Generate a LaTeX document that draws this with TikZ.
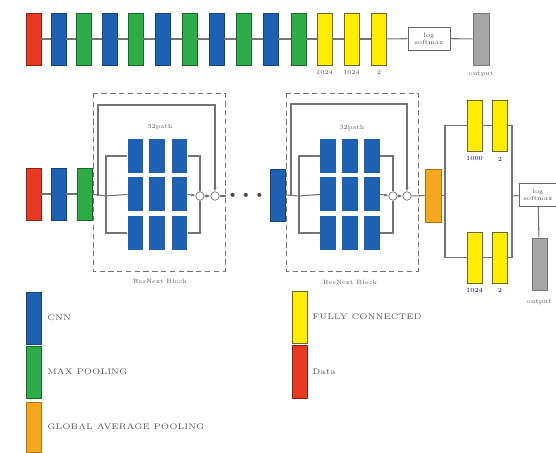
\documentclass[tikz,border=0pt]{standalone}
\usepackage{xcolor,tikz}
\usetikzlibrary{arrows.meta,calc}
\definecolor{cnnc}{RGB}{30,96,178}
\definecolor{mpc}{RGB}{46,172,72}
\definecolor{gapc}{RGB}{246,168,28}
\definecolor{fcc}{RGB}{255,236,0}
\definecolor{datc}{RGB}{232,58,34}
\tikzset{blk/.style={inner sep=0pt,line width=.4pt,minimum width=3mm,minimum height=10.4mm},
 cnn/.style={blk,draw=cnnc!70!black,fill=cnnc},mp/.style={blk,draw=mpc!60!black,fill=mpc},
 gap/.style={blk,draw=gapc!70!black,fill=gapc},fc/.style={blk,draw=olive!70!black,fill=fcc},
 dat/.style={blk,draw=datc!60!black,fill=datc},outb/.style={blk,draw=black!55,fill=black!35},
 cell/.style={cnn,draw=none,minimum width=3.1mm,minimum height=6.8mm},
 smx/.style={draw=black!60,fill=white,inner sep=0pt,minimum width=8.4mm,minimum height=4.6mm,align=center,font=\fontsize{3.5}{3.9}\selectfont,text=black!70},
 add/.style={circle,draw=black!55,fill=white,inner sep=0pt,minimum size=1.7mm},
 wire/.style={draw=black!55,line width=.6pt},tip/.style={wire,-{Latex[length=.8mm,width=.7mm]}},
 box/.style={draw=black!55,densely dashed,line width=.5pt},
 lab/.style={font=\fontsize{3.5}{4}\selectfont,text=black!65,inner sep=1pt},
 key/.style={font=\fontsize{4.6}{5}\selectfont,text=black!65,anchor=west,inner sep=0pt}}
\begin{document}
\begin{tikzpicture}[x=.2mm,y=-.2mm]
\useasboundingbox (0,0) rectangle (556,453);
\foreach \s/\x [count=\i] in {dat/33.5,cnn/58.5,mp/83.5,cnn/109.5,mp/135.5,cnn/163,mp/189.5,cnn/216.5,mp/243.5,cnn/270.5,mp/298.5,fc/324.5,fc/351.5,fc/379}
 \node[\s] (t\i) at (\x,39) {};
\foreach \i [evaluate=\i as \j using int(\i+1)] in {1,...,13} \draw[wire] (t\i) -- (t\j);
\node[smx] (sm1) at (429,38.5) {log\\softmax};
\node[outb,minimum width=3.2mm] (o1) at (481,39) {};
\draw[wire] (t14) -- (sm1);\draw[wire] (sm1) -- (o1);
\node[lab] (n1) at (324.5,72) {1024};\node[lab] (n2) at (351.5,72) {1024};\node[lab] (n3) at (379,72) {2};
\node[lab] (n4) at (481,74) {output};
\node[dat] (d2) at (33.5,194) {};\node[cnn] (c2) at (58.5,194) {};\node[mp] (p2) at (84.5,194) {};
\draw[wire] (d2) -- (c2);\draw[wire] (c2) -- (p2);
\draw[box] (93,93) rectangle (225,271);
\foreach \c/\x in {1/135.5,2/157,3/179.5} \foreach \r/\y in {1/156,2/194.5,3/233} \node[cell] (g\r\c) at (\x,\y) {};
\node[lab] (q1) at (160,127) {32path};\node[lab] (r1) at (160,281) {ResNext Block};
\node[add] (a1) at (200,196) {};\node[add] (b1) at (215,196) {};
\coordinate (s1) at (98,196);\coordinate (j1) at (106,196);
\draw[wire] (p2.east) -- (j1);\draw[wire] (j1) |- (g11);\draw[wire] (j1) -- (g21.west);\draw[wire] (j1) |- (g31);
\draw[wire] (g13) -| (a1);\draw[tip] (g23.east) -- (a1);\draw[wire] (g33) -| (a1);
\draw[tip] (a1) -- (b1);\draw[tip] (s1) -- ++(0,-91) -| (b1);
\node[font=\fontsize{8}{8}\selectfont,text=black!70,inner sep=0pt] (dd) at (246,196) {\textbullet\hspace{1pt}\textbullet\hspace{1pt}\textbullet};
\draw[wire] (b1) -- (dd);
\node[cnn] (c3) at (277.5,195) {};
\draw[box] (286,93) rectangle (418,271);
\foreach \c/\x in {1/328,2/350,3/372} \foreach \r/\y in {1/156,2/194.5,3/233} \node[cell] (h\r\c) at (\x,\y) {};
\node[lab] (q2) at (352,128) {32path};\node[lab] (r2) at (350,282) {ResNext Block};
\node[add] (a2) at (393,196) {};\node[add] (b2) at (407,196) {};
\coordinate (s2) at (291,196);\coordinate (j2) at (299,196);
\draw[wire] (c3.east) -- (j2);\draw[wire] (j2) |- (h11);\draw[wire] (j2) -- (h21.west);\draw[wire] (j2) |- (h31);
\draw[wire] (h13) -| (a2);\draw[tip] (h23.east) -- (a2);\draw[wire] (h33) -| (a2);
\draw[tip] (a2) -- (b2);\draw[tip] (s2) -- ++(0,-92) -| (b2);
\node[gap,minimum width=3.2mm,minimum height=10.6mm] (go) at (433,195.5) {};
\draw[wire] (b2) -- (go);
\node[fc,minimum height=10.2mm] (f1) at (474.5,125.5) {};\node[fc,minimum height=10.2mm] (f2) at (500,125.5) {};
\node[fc,minimum height=10.2mm] (f3) at (474.5,257.5) {};\node[fc,minimum height=10.2mm] (f4) at (500,257.5) {};
\coordinate (j3) at (445,196);\coordinate (j4) at (512,196);
\draw[wire] (go.east) -- (j3);\draw[wire] (j3) |- (f1);\draw[wire] (j3) |- (f3);
\draw[wire] (f1) -- (f2);\draw[wire] (f3) -- (f4);
\draw[wire] (f2) -| (j4);\draw[wire] (f4) -| (j4);
\node[smx,minimum width=7.6mm] (sm2) at (538,194.5) {log\\softmax};
\draw[wire] (j4) -- (sm2);
\node[outb] (o2) at (539.5,264) {};\draw[wire] (sm2) -- (o2);
\node[lab,text=blue!55!black] (n5) at (474.5,159) {1000};\node[lab,text=blue!55!black] (n6) at (500,159) {2};
\node[lab,text=blue!55!black] (n7) at (474.5,290) {1024};\node[lab,text=blue!55!black] (n8) at (500,290) {2};
\node[lab] (n9) at (539,302) {output};
\node[cnn] (k1) at (33.5,318) {};\node[mp] (k2) at (33.5,372) {};\node[gap,minimum height=10mm] (k3) at (33.5,427) {};
\node[fc] (k4) at (299.5,317.5) {};\node[dat,minimum height=10.6mm] (k5) at (299.5,371.5) {};
\node[key] (e1) at (47,318) {CNN};\node[key] (e2) at (47,372) {MAX POOLING};
\node[key] (e3) at (47,427) {GLOBAL AVERAGE POOLING};
\node[key] (e4) at (312,317) {FULLY CONNECTED};\node[key] (e5) at (312,372) {Data};
\end{tikzpicture}
\end{document}
